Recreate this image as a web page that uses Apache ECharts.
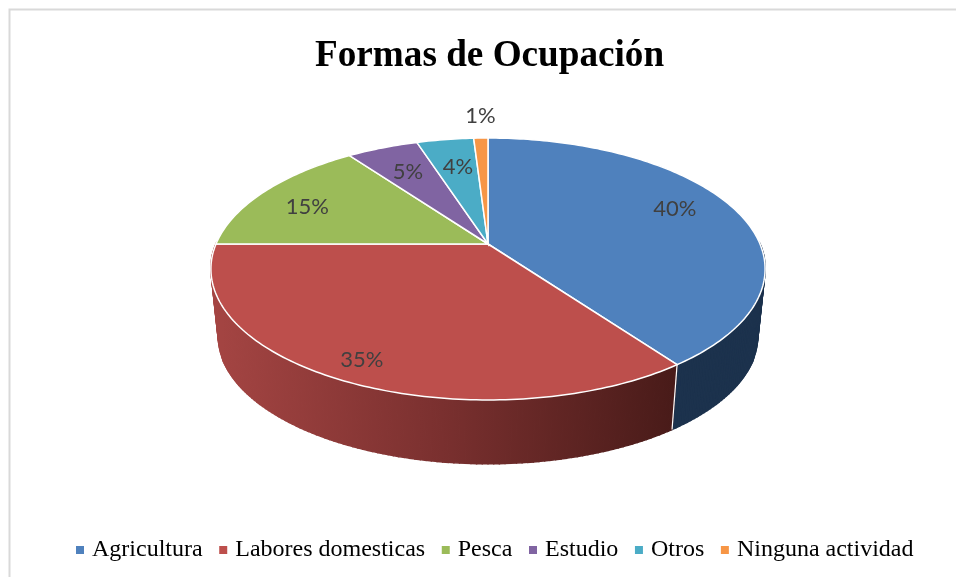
<!DOCTYPE html>
<html>
<head>
<meta charset="utf-8">
<title>Formas de Ocupación</title>
<script src="https://cdn.jsdelivr.net/npm/echarts@6/dist/echarts.min.js"></script>
<style>
  html, body { margin: 0; padding: 0; background: #fff; }
  #chart { width: 956px; height: 577px; }
</style>
</head>
<body>
<div id="chart"></div>
<script>
const categories = ['Agricultura', 'Labores domesticas', 'Pesca', 'Estudio', 'Otros', 'Ninguna actividad'];
const values = [40, 35, 15, 5, 4, 1];
const colors = ['#4f81bd', '#bd4f4c', '#9bbb59', '#8064a2', '#4bacc6', '#f79646'];

// perspective of the tilted disc (apex of the slices, half axes, foreshortening)
const apexX = 488, apexY = 244, radX = 272, radY = 126.2, persp = 0.1908;
// bottom rim of the side wall
const depthY = 68, depthScale = 0.9735;
// pixel nudges of the percent labels away from the 75% radius
const labelNudge = [[1, -7], [-20, 19], [-10, 3], [2, 3], [3.5, 4.5], [-2, -45]];
const labelColor = '#404040';

const total = values.reduce((a, b) => a + b, 0);

// rho = 1 is the rim, angle runs clockwise from 12 o'clock
function project(angle, rho, bottom) {
  const u = Math.sin(angle) * rho, v = Math.cos(angle) * rho;
  const w = 1 + persp * v;
  const s = bottom ? depthScale : 1;
  return [apexX + s * radX * u / w, apexY + (bottom ? depthY : 0) - s * radY * v / w];
}

function arcAngles(a0, a1) {
  const n = Math.max(2, Math.ceil((a1 - a0) / (Math.PI / 180)));
  const out = [];
  for (let i = 0; i <= n; i++) out.push(a0 + (a1 - a0) * i / n);
  return out;
}

function sideFill(index) {
  if (index === 1) {
    return new echarts.graphic.LinearGradient(211, 0, 672, 0, [
      { offset: 0, color: '#a54543' },
      { offset: 0.5, color: '#7a302f' },
      { offset: 1, color: '#491b19' }
    ], true);
  }
  return index === 0 ? '#1c324d' : echarts.color.lift(colors[index], -0.5);
}

function renderSlice(params, api) {
  const i = params.seriesIndex;
  const before = values.slice(0, i).reduce((a, b) => a + b, 0);
  const a0 = before / total * Math.PI * 2;
  const a1 = (before + api.value(0)) / total * Math.PI * 2;
  const angles = arcAngles(a0, a1);
  const rimTop = angles.map(a => project(a, 1, false));
  const rimBottom = angles.map(a => project(a, 1, true));
  const mid = project((a0 + a1) / 2, 0.75, false);
  const fill = sideFill(i);
  const children = [];

  // side wall as thin quads, front half only (the back is hidden by the top face)
  for (let k = 0; k < angles.length - 1; k++) {
    if (Math.cos(angles[k]) > -1e-6 && Math.cos(angles[k + 1]) > -1e-6) continue;
    children.push({
      type: 'polygon',
      z2: 1,
      shape: { points: [rimTop[k], rimTop[k + 1], rimBottom[k + 1], rimBottom[k]] },
      style: { fill, stroke: fill, lineWidth: 1.4 }
    });
  }
  // white seam between two walls on the front
  if (Math.cos(a0) < -0.01) {
    children.push({
      type: 'line',
      z2: 2,
      shape: { x1: rimTop[0][0], y1: rimTop[0][1], x2: rimBottom[0][0], y2: rimBottom[0][1] },
      style: { stroke: '#fff', lineWidth: 1.2 }
    });
  }
  children.push({
    type: 'polygon',
    z2: 10,
    shape: { points: [[apexX, apexY]].concat(rimTop) },
    style: { fill: colors[i], stroke: '#fff', lineWidth: 1.5 }
  });
  children.push({
    type: 'text',
    z2: 20,
    style: {
      text: api.value(0) + '%',
      x: mid[0] + labelNudge[i][0],
      y: mid[1] + labelNudge[i][1],
      fill: labelColor,
      font: '22px Lato',
      textAlign: 'center',
      textVerticalAlign: 'middle'
    }
  });
  return { type: 'group', children };
}

const chart = echarts.init(document.getElementById('chart'));
chart.setOption({
  animation: false,
  backgroundColor: '#fff',
  title: {
    text: 'Formas de Ocupación',
    left: 310,
    top: 33,
    textStyle: { fontFamily: 'Liberation Serif', fontWeight: 'bold', fontSize: 37.2, color: '#000' }
  },
  legend: {
    data: categories,
    bottom: 10,
    left: 71,
    icon: 'rect',
    itemWidth: 8,
    itemHeight: 8,
    itemGap: 16.6,
    textStyle: { fontFamily: 'Liberation Serif', fontSize: 24, color: '#000', padding: [0, 0, 0, 3] }
  },
  graphic: [{
    type: 'rect',
    silent: true,
    shape: { x: 9.5, y: 9.5, width: 1000, height: 700 },
    style: { fill: 'none', stroke: '#d9d9d9', lineWidth: 2 }
  }],
  series: categories.map((name, i) => ({
    type: 'custom',
    name,
    coordinateSystem: 'none',
    itemStyle: { color: colors[i] },
    renderItem: renderSlice,
    data: [[values[i]]]
  }))
});
</script>
</body>
</html>
